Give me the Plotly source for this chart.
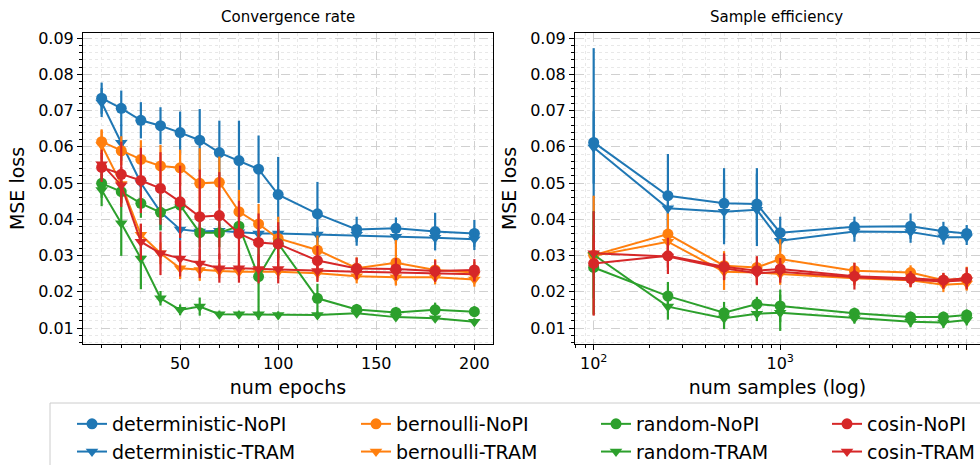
import plotly.graph_objects as go

# ---------------- data ----------------
epochs = [10, 20, 30, 40, 50, 60, 70, 80, 90, 100, 120, 140, 160, 180, 200]
det_nopi = [0.0734, 0.0706, 0.0673, 0.0658, 0.0639, 0.0618, 0.0584, 0.0562, 0.0538, 0.0468, 0.0415, 0.0372, 0.0375, 0.0366, 0.0361]
det_nopi_err = [0.0043, 0.0049, 0.0050, 0.0051, 0.0058, 0.0086, 0.0088, 0.0110, 0.0093, 0.0104, 0.0088, 0.0035, 0.0030, 0.0052, 0.0037]
det_tram = [0.0722, 0.0611, 0.0500, 0.0420, 0.0372, 0.0366, 0.0368, 0.0364, 0.0361, 0.0361, 0.0358, 0.0357, 0.0352, 0.0349, 0.0345]
det_tram_err = [0.004, 0.005, 0.005, 0.005, 0.003, 0.002, 0.002, 0.002, 0.002, 0.002, 0.002, 0.003, 0.002, 0.002, 0.003]
bern_nopi = [0.0614, 0.0589, 0.0565, 0.0547, 0.0542, 0.0499, 0.0502, 0.0421, 0.0387, 0.0347, 0.0315, 0.0265, 0.0280, 0.0260, 0.0253]
bern_nopi_err = [0.0034, 0.004, 0.0053, 0.0058, 0.005, 0.0097, 0.0071, 0.006, 0.0055, 0.006, 0.004, 0.003, 0.0063, 0.003, 0.003]
bern_tram = [0.0605, 0.0497, 0.0357, 0.0306, 0.0265, 0.0260, 0.0257, 0.0255, 0.0255, 0.0255, 0.0251, 0.0243, 0.0240, 0.0240, 0.0234]
bern_tram_err = [0.004, 0.004, 0.003, 0.003, 0.003, 0.003, 0.002, 0.002, 0.002, 0.002, 0.002, 0.002, 0.002, 0.002, 0.002]
rand_nopi = [0.0499, 0.0476, 0.0444, 0.0419, 0.0439, 0.0363, 0.0363, 0.0381, 0.0242, 0.0333, 0.0182, 0.0151, 0.0143, 0.0150, 0.0145]
rand_nopi_err = [0.004, 0.003, 0.004, 0.005, 0.004, 0.004, 0.004, 0.003, 0.012, 0.004, 0.004, 0.0015, 0.0015, 0.002, 0.0015]
rand_tram = [0.0481, 0.0389, 0.0292, 0.0182, 0.0150, 0.0159, 0.0138, 0.0138, 0.0138, 0.0136, 0.0136, 0.0141, 0.0130, 0.0127, 0.0117]
rand_tram_err = [0.0045, 0.009, 0.0085, 0.002, 0.0015, 0.0025, 0.001, 0.001, 0.001, 0.001, 0.001, 0.001, 0.001, 0.001, 0.001]
cos_nopi = [0.0543, 0.0524, 0.0507, 0.0485, 0.0448, 0.0407, 0.0410, 0.0361, 0.0336, 0.0332, 0.0286, 0.0264, 0.0263, 0.0257, 0.0260]
cos_nopi_err = [0.004, 0.009, 0.009, 0.010, 0.010, 0.013, 0.012, 0.009, 0.008, 0.006, 0.004, 0.003, 0.003, 0.003, 0.003]
cos_tram = [0.0552, 0.0494, 0.0338, 0.0306, 0.0292, 0.0278, 0.0265, 0.0265, 0.0263, 0.0263, 0.0257, 0.0255, 0.0253, 0.0251, 0.0248]
cos_tram_err = [0.004, 0.005, 0.005, 0.006, 0.005, 0.004, 0.004, 0.004, 0.004, 0.004, 0.003, 0.002, 0.002, 0.002, 0.002]

samples = [100, 250, 500, 750, 1000, 2500, 5000, 7500, 10000]
det_nopi_s = [0.0612, 0.0465, 0.0444, 0.0442, 0.0363, 0.0379, 0.0381, 0.0367, 0.0361]
det_nopi_s_err = [0.026, 0.0115, 0.0097, 0.0099, 0.0044, 0.0028, 0.0035, 0.0026, 0.0023]
det_tram_s = [0.0598, 0.0430, 0.0421, 0.0426, 0.0341, 0.0366, 0.0365, 0.0350, 0.0350]
det_tram_s_err = [0.010, 0.005, 0.009, 0.010, 0.003, 0.0028, 0.003, 0.002, 0.0021]
bern_nopi_s = [0.0301, 0.0359, 0.0272, 0.0267, 0.0290, 0.0258, 0.0253, 0.0232, 0.0237]
bern_nopi_s_err = [0.0164, 0.0057, 0.004, 0.003, 0.0055, 0.0022, 0.002, 0.002, 0.0032]
bern_tram_s = [0.0299, 0.0338, 0.0255, 0.0253, 0.0249, 0.0237, 0.0232, 0.0219, 0.0223]
bern_tram_s_err = [0.005, 0.003, 0.005, 0.003, 0.003, 0.002, 0.002, 0.002, 0.002]
rand_nopi_s = [0.0267, 0.0188, 0.0142, 0.0166, 0.0161, 0.0141, 0.0130, 0.0130, 0.0136]
rand_nopi_s_err = [0.013, 0.0039, 0.003, 0.002, 0.0045, 0.0015, 0.0015, 0.0015, 0.0015]
rand_tram_s = [0.0302, 0.0159, 0.0127, 0.0139, 0.0142, 0.0127, 0.0117, 0.0115, 0.0122]
rand_tram_s_err = [0.012, 0.0036, 0.003, 0.002, 0.005, 0.0015, 0.0015, 0.0015, 0.0015]
cos_nopi_s = [0.0278, 0.0299, 0.0269, 0.0258, 0.0263, 0.0243, 0.0237, 0.0232, 0.0237]
cos_nopi_s_err = [0.0144, 0.005, 0.0037, 0.004, 0.003, 0.0037, 0.002, 0.002, 0.003]
cos_tram_s = [0.0306, 0.0297, 0.0265, 0.0251, 0.0255, 0.0240, 0.0233, 0.0228, 0.0232]
cos_tram_s_err = [0.005, 0.003, 0.003, 0.003, 0.003, 0.002, 0.002, 0.002, 0.002]

y_ticks = [0.01, 0.02, 0.03, 0.04, 0.05, 0.06, 0.07, 0.08, 0.09]
y_tick_labels = ["0.01", "0.02", "0.03", "0.04", "0.05", "0.06", "0.07", "0.08", "0.09"]
x_ticks_epochs = [50, 100, 150, 200]
x_ticks_samples = [100, 1000, 10000]
x_tick_labels_samples = ["10<sup>2</sup>", "10<sup>3</sup>", "10<sup>4</sup>"]
x_minor_samples = [80, 90, 200, 300, 400, 500, 600, 700, 800, 900,
                   2000, 3000, 4000, 5000, 6000, 7000, 8000, 9000]

groups = ["deterministic", "bernoulli", "random", "cosin"]
colors = ["#1f77b4", "#ff7f0e", "#2ca02c", "#d62728"]

left_series = [
    (det_nopi, det_nopi_err, det_tram, det_tram_err),
    (bern_nopi, bern_nopi_err, bern_tram, bern_tram_err),
    (rand_nopi, rand_nopi_err, rand_tram, rand_tram_err),
    (cos_nopi, cos_nopi_err, cos_tram, cos_tram_err),
]
right_series = [
    (det_nopi_s, det_nopi_s_err, det_tram_s, det_tram_s_err),
    (bern_nopi_s, bern_nopi_s_err, bern_tram_s, bern_tram_s_err),
    (rand_nopi_s, rand_nopi_s_err, rand_tram_s, rand_tram_s_err),
    (cos_nopi_s, cos_nopi_s_err, cos_tram_s, cos_tram_s_err),
]

FONT = "DejaVu Sans"
W, H = 980, 465
TOP, BOTTOM = 33, 344  # plot area pixel rows
PH = BOTTOM - TOP

def py(px):
    return (BOTTOM - px) / PH

fig = go.Figure()

legend_names = ["legend", "legend2", "legend3", "legend4"]

def add(xs, ys, errs, color, symbol, name, xa, ya, show, leg):
    fig.add_trace(go.Scatter(
        x=xs, y=ys, mode="lines+markers", name=name,
        line=dict(color=color, width=2),
        marker=dict(color=color, symbol=symbol, size=11, line=dict(width=0)),
        error_y=dict(type="data", array=errs, visible=True, color=color,
                     thickness=2.2, width=0),
        xaxis=xa, yaxis=ya, showlegend=show, legend=leg,
    ))

for i, g in enumerate(groups):
    n, ne, t, te = left_series[i]
    add(epochs, n, ne, colors[i], "circle", f"{g}-NoPI", "x", "y", True, legend_names[i])
    add(epochs, t, te, colors[i], "triangle-down", f"{g}-TRAM", "x", "y", True, legend_names[i])
for i, g in enumerate(groups):
    n, ne, t, te = right_series[i]
    add(samples, n, ne, colors[i], "circle", f"{g}-NoPI", "x2", "y2", False, legend_names[i])
    add(samples, t, te, colors[i], "triangle-down", f"{g}-TRAM", "x2", "y2", False, legend_names[i])

yrange = [0.01 - 16 / 3625, 0.09 + 5 / 3625]
grid_major = "#d0d0d0"
grid_minor = "#e8e8e8"

common_axis = dict(
    showline=True, linecolor="black", linewidth=1,
    ticks="outside", ticklen=5, tickcolor="black", tickwidth=1,
    showgrid=True, gridcolor=grid_major, griddash="dash", gridwidth=1,
    zeroline=False, automargin=False,
    tickfont=dict(family=FONT, size=16, color="black"),
)

yaxis_common = dict(
    common_axis, range=yrange, tickvals=y_ticks, ticktext=y_tick_labels,
    minor=dict(dtick=0.002, tick0=0, ticks="outside", ticklen=3, tickcolor="black",
               showgrid=True, gridcolor=grid_minor, griddash="dot", gridwidth=1),
    title=dict(text="MSE loss", font=dict(family=FONT, size=19, color="black"), standoff=8),
)

fig.update_layout(
    width=W, height=H,
    margin=dict(l=0, r=0, t=TOP, b=H - BOTTOM, pad=0, autoexpand=False),
    paper_bgcolor="white", plot_bgcolor="white",
    font=dict(family=FONT, color="black"),
    xaxis=dict(common_axis, domain=[83 / W, 493 / W], range=[0.5, 209.5],
               tickvals=x_ticks_epochs, mirror=True, anchor="y",
               minor=dict(dtick=10, tick0=0, ticks="outside", ticklen=3, tickcolor="black",
                          showgrid=True, gridcolor=grid_minor, griddash="dot", gridwidth=1),
               title=dict(text="num epochs", font=dict(family=FONT, size=19, color="black"), standoff=8)),
    yaxis=dict(yaxis_common, domain=[0, 1], anchor="x", mirror=True),
    xaxis2=dict(common_axis, domain=[575 / W, 1.0], type="log",
                range=[2 - 18.7 / 186.7, 4 + 13.3 / 186.7],
                tickvals=x_ticks_samples, ticktext=x_tick_labels_samples, mirror=True, anchor="y2",
                minor=dict(tickvals=x_minor_samples, ticks="outside", ticklen=3, tickcolor="black",
                           showgrid=True, gridcolor=grid_minor, griddash="dot", gridwidth=1),
                title=dict(text="num samples (log)", font=dict(family=FONT, size=19, color="black"), standoff=8)),
    yaxis2=dict(yaxis_common, domain=[0, 1], anchor="x2", mirror=False),
)

# subplot titles
for cx, txt in [((83 + 493) / 2 / W, "Convergence rate"), ((575 + 977) / 2 / W, "Sample efficiency")]:
    fig.add_annotation(x=cx, y=1, xref="paper", yref="paper", xanchor="center", yanchor="bottom",
                       yshift=5, text=txt, showarrow=False,
                       font=dict(family=FONT, size=15, color="black"))

# legend frame
fig.add_shape(type="rect", xref="paper", yref="paper",
              x0=50 / W, x1=1.02, y0=py(480), y1=py(403),
              line=dict(color="#cccccc", width=1), fillcolor="white", layer="below")

leg_x_px = [72, 356, 596, 827]
for i, ln in enumerate(legend_names):
    fig.update_layout({ln: dict(
        x=leg_x_px[i] / W, y=py(405), xanchor="left", yanchor="top",
        orientation="v", bgcolor="rgba(0,0,0,0)", borderwidth=0,
        font=dict(family=FONT, size=19, color="black"),
        tracegroupgap=0, itemwidth=30,
    )})

fig.write_html("out.html")
